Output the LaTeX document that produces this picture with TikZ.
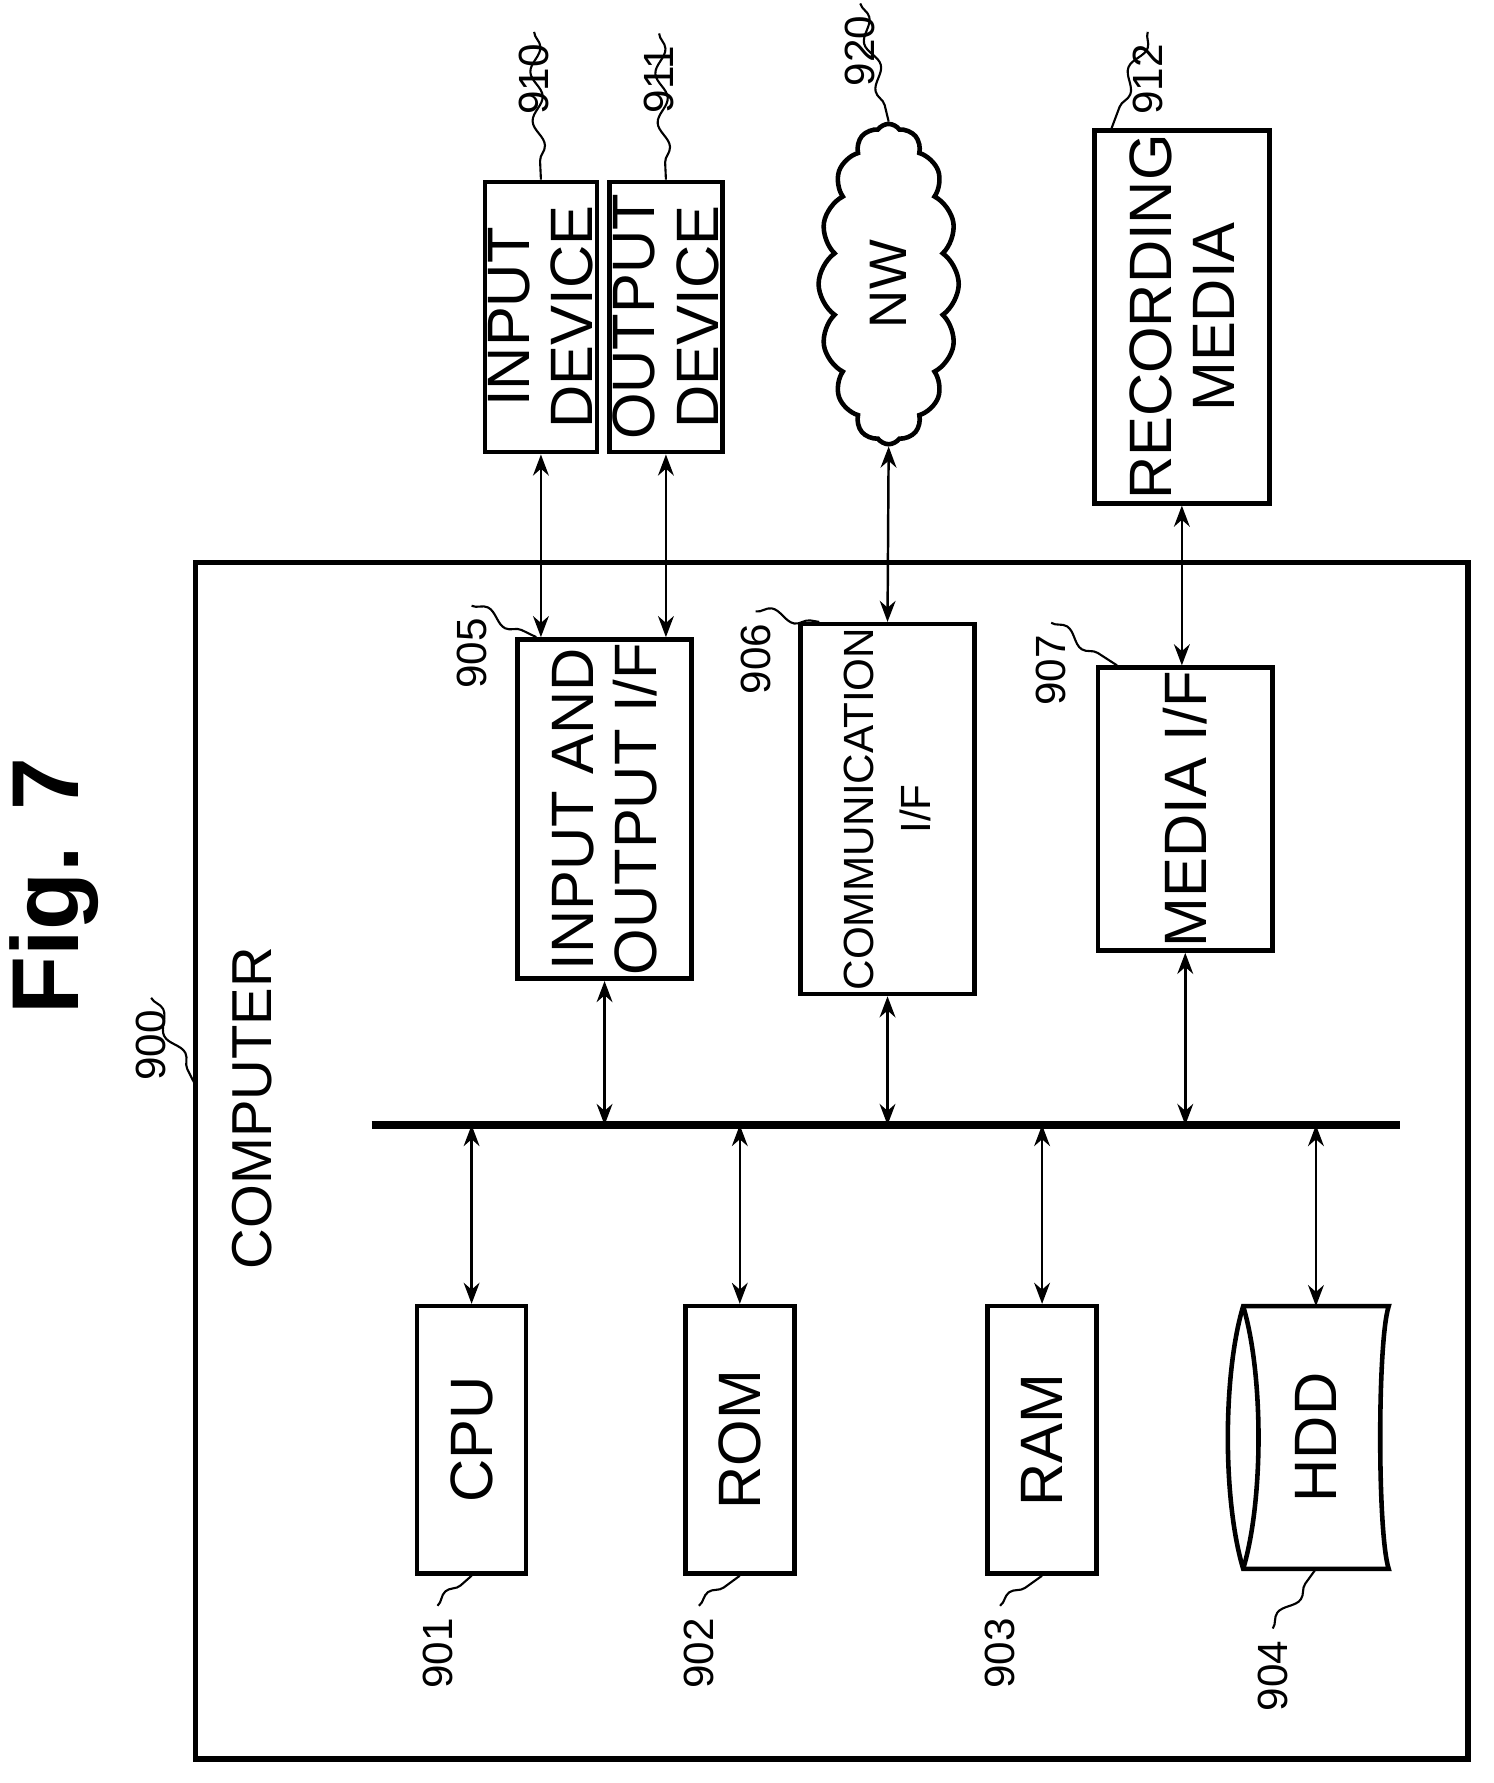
\documentclass[tikz,border=0pt]{standalone}
\usepackage{fontspec}
\setmainfont{Liberation Sans}
\usetikzlibrary{shapes.symbols,decorations.pathmorphing,arrows.meta}
\tikzset{
  blk/.style={draw, line width=1.3pt, rotate=90, align=center, font=\fontsize{17}{18}\selectfont,
    minimum width=2.67cm, minimum height=1.09cm, inner sep=1pt},
  ref/.style={rotate=90, font=\fontsize{12}{14}\selectfont},
  squig/.style={decorate, decoration={snake, amplitude=1.6pt, segment length=14pt}, line width=0.6pt},
  link/.style={{Stealth[length=6pt]}-{Stealth[length=6pt]}, line width=0.7pt},
}
\begin{document}
\begin{tikzpicture}[x=0.01136cm, y=0.01136cm]
\useasboundingbox (0,0) rectangle (1314,1569);
\node[rotate=90, font=\fontsize{27}{30}\selectfont\bfseries] (title) at (48,789) {Fig. 7};
% computer frame
\draw[line width=1.6pt] (172,21) rectangle (1292,1074);
\coordinate (frame) at (172,614);
\node[rotate=90, font=\fontsize{16}{18}\selectfont] (computer) at (222,594) {COMPUTER};
\node[ref] (l900) at (133,649) {900};
\draw[line width=2.2pt] (327,579) coordinate (busL) -- (1232,579) coordinate (busR);
% bus side blocks
\node[blk] (cpu) at (415,302) {CPU};
\node[blk] (rom) at (651,302) {ROM};
\node[blk] (ram) at (917,302) {RAM};
\node[rotate=90, minimum width=2.61cm, minimum height=1.44cm, font=\fontsize{17}{18}\selectfont] (hdd) at (1158,304) {HDD};
\draw[line width=1.3pt] (hdd.south west) .. controls +(-10,30) and +(-10,-30) .. (hdd.south east)
  -- (hdd.north east) .. controls +(-18,-60) and +(-18,60) .. (hdd.north west) -- cycle;
\draw[line width=1.3pt] (hdd.north east) .. controls +(18,-60) and +(18,60) .. (hdd.north west);
\node[blk, minimum height=1.74cm] (io) at (532,857) {INPUT AND\\OUTPUT I/F};
\node[blk, minimum height=1.74cm, font=\fontsize{12}{16}\selectfont] (comm) at (781,857) {COMMUNICATION\\I/F};
\node[blk, minimum height=1.74cm] (media) at (1043,857) {MEDIA I/F};
% outside devices
\node[blk, minimum width=2.7cm, minimum height=1.06cm] (input) at (476,1290) {INPUT\\DEVICE};
\node[blk, minimum width=2.7cm, minimum height=1.06cm] (output) at (586,1290) {OUTPUT\\DEVICE};
\node[cloud, draw, line width=1.3pt, cloud puffs=16, cloud puff arc=110, aspect=2.3, rotate=90,
  minimum width=3.2cm, minimum height=1.4cm, font=\fontsize{15}{18}\selectfont] (nw) at (782,1319) {NW};
\node[blk, minimum width=2.7cm, minimum height=1.75cm] (rec) at (1040,1290) {RECORDING\\MEDIA};
% connectors
\foreach \b in {cpu,rom,ram,hdd}
  \draw[link] (\b.east |- busL) -- (\b.east);
\foreach \b in {io,comm,media}
  \draw[link] (\b.west) -- (\b.west |- busL);
\draw[link] (input.west) -- (input.west |- io.east);
\draw[link] (output.west) -- (output.west |- io.east);
\draw[link] (nw.west) -- (comm.east);
\draw[link] (rec.west) -- (rec.west |- media.east);
% reference labels
\node[ref] (l901) at (385,114) {901};
\node[ref] (l902) at (615,114) {902};
\node[ref] (l903) at (880,114) {903};
\node[ref] (l904) at (1120,94) {904};
\node[ref] (l905) at (415,994) {905};
\node[ref] (l906) at (665,989) {906};
\node[ref] (l907) at (925,979) {907};
\node[ref] (l910) at (470,1499) {910};
\node[ref] (l911) at (580,1499) {911};
\node[ref] (l920) at (757,1524) {920};
\node[ref] (l912) at (1010,1499) {912};
\draw[squig] (l900.east) -- (frame);
\draw[squig] (l901.east) -- (cpu.west);
\draw[squig] (l902.east) -- (rom.west);
\draw[squig] (l903.east) -- (ram.west);
\draw[squig] (l904.east) -- (hdd.west);
\draw[squig] (l905.east) -- ([xshift=6]io.north east);
\draw[squig] (l906.east) -- ([xshift=6]comm.north east);
\draw[squig] (l907.east) -- ([xshift=6]media.north east);
\draw[squig] (l910.east) -- (input.east);
\draw[squig] (l911.east) -- (output.east);
\draw[squig] (l920.east) -- (nw.east);
\draw[squig] (l912.east) -- ([xshift=-20]rec.east);
\end{tikzpicture}
\end{document}
